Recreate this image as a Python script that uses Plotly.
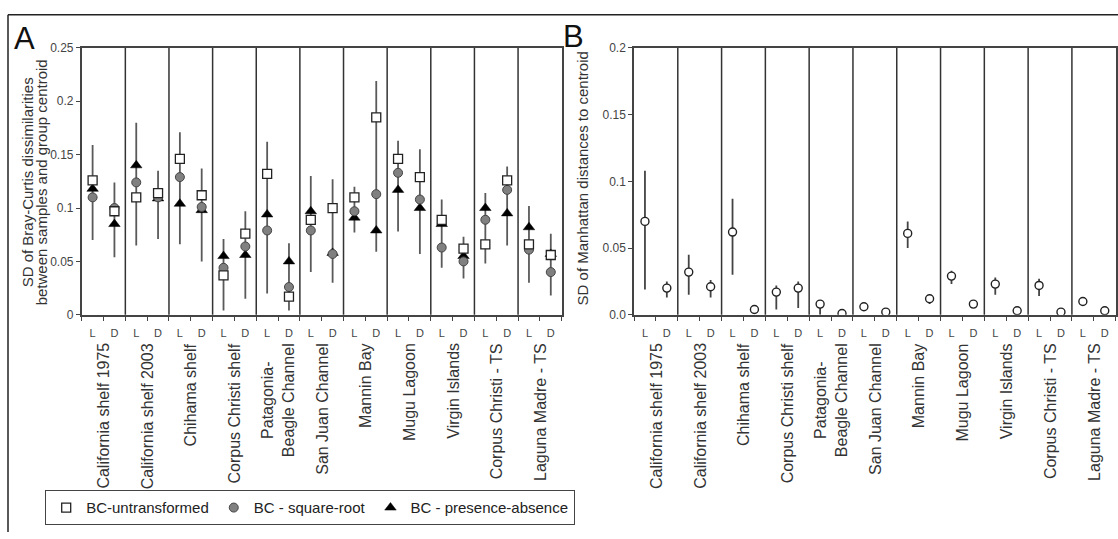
import plotly.graph_objects as go

# ---------------- data ----------------
sites = ["California shelf 1975", "California shelf 2003", "Chihama shelf",
         "Corpus Christi shelf", "Patagonia-<br>Beagle Channel", "San Juan Channel",
         "Mannin Bay", "Mugu Lagoon", "Virgin Islands", "Corpus Christi - TS",
         "Laguna Madre - TS"]
positions = ["L", "D"]

# Panel A (Bray-Curtis), order: site1 L, site1 D, site2 L, ...
bc_untransformed = [0.126, 0.097, 0.110, 0.114, 0.146, 0.112, 0.037, 0.076, 0.132, 0.017, 0.089,
                    0.100, 0.110, 0.185, 0.146, 0.129, 0.089, 0.062, 0.066, 0.126, 0.066, 0.056]
bc_sqrt = [0.110, 0.100, 0.124, 0.110, 0.129, 0.101, 0.044, 0.064, 0.079, 0.026, 0.079,
           0.057, 0.097, 0.113, 0.133, 0.108, 0.063, 0.050, 0.089, 0.117, 0.061, 0.040]
bc_pa = [0.118, 0.085, 0.140, 0.109, 0.104, 0.098, 0.055, 0.056, 0.094, 0.050, 0.097,
         0.058, 0.091, 0.079, 0.117, 0.100, 0.085, 0.055, 0.100, 0.095, 0.082, 0.057]
ci_a_low = [0.070, 0.054, 0.065, 0.071, 0.066, 0.050, 0.004, 0.015, 0.020, 0.004, 0.040,
            0.030, 0.077, 0.059, 0.078, 0.057, 0.044, 0.034, 0.048, 0.065, 0.030, 0.018]
ci_a_high = [0.159, 0.124, 0.180, 0.135, 0.171, 0.137, 0.071, 0.097, 0.162, 0.067, 0.130,
             0.127, 0.120, 0.219, 0.163, 0.155, 0.108, 0.073, 0.114, 0.139, 0.102, 0.076]

# Panel B (Manhattan)
manhattan = [0.070, 0.020, 0.032, 0.021, 0.062, 0.004, 0.017, 0.020, 0.008, 0.001, 0.006,
             0.002, 0.061, 0.012, 0.029, 0.008, 0.023, 0.003, 0.022, 0.002, 0.010, 0.003]
ci_b_low = [0.019, 0.013, 0.015, 0.013, 0.030, 0.004, 0.004, 0.005, 0.000, 0.001, 0.006,
            0.002, 0.050, 0.008, 0.023, 0.005, 0.015, 0.003, 0.014, 0.002, 0.010, 0.003]
ci_b_high = [0.108, 0.025, 0.045, 0.026, 0.087, 0.004, 0.022, 0.025, 0.011, 0.001, 0.006,
             0.002, 0.070, 0.015, 0.033, 0.008, 0.028, 0.003, 0.027, 0.002, 0.010, 0.003]

yticks_a = [0, 0.05, 0.1, 0.15, 0.2, 0.25]
yticktext_a = ["0", "0.05", "0.1", "0.15", "0.2", "0.25"]
yticks_b = [0, 0.05, 0.1, 0.15, 0.2]
yticktext_b = ["0.0", "0.05", "0.1", "0.15", "0.2"]

# ---------------- figure ----------------
W, H = 1118, 539
FONT = "Liberation Sans, Arial, sans-serif"
n = len(sites) * len(positions)
xpos = [i + 0.5 for i in range(n)]
xlabels = [positions[i % 2] for i in range(n)]

def px(v):
    return v / W

def py(v):
    return 1 - v / H

fig = go.Figure()

def err_segments(lo, hi):
    xs, ys = [], []
    for x, a, b in zip(xpos, lo, hi):
        xs += [x, x, None]
        ys += [a, b, None]
    return xs, ys

ex, ey = err_segments(ci_a_low, ci_a_high)
fig.add_trace(go.Scatter(x=ex, y=ey, mode="lines", line=dict(color="#5a5a5a", width=1.8),
                         showlegend=False, hoverinfo="skip", xaxis="x", yaxis="y"))
fig.add_trace(go.Scatter(x=xpos, y=bc_pa, mode="markers", name="BC - presence-absence",
                         marker=dict(symbol="triangle-up", size=10, color="#000000",
                                     line=dict(color="#000000", width=0.5)),
                         xaxis="x", yaxis="y"))
fig.add_trace(go.Scatter(x=xpos, y=bc_sqrt, mode="markers", name="BC - square-root",
                         marker=dict(symbol="circle", size=9, color="#808080",
                                     line=dict(color="#444444", width=1)),
                         xaxis="x", yaxis="y"))
fig.add_trace(go.Scatter(x=xpos, y=bc_untransformed, mode="markers", name="BC-untransformed",
                         marker=dict(symbol="square", size=9, color="#ffffff",
                                     line=dict(color="#222222", width=1.3)),
                         xaxis="x", yaxis="y"))

ex, ey = err_segments(ci_b_low, ci_b_high)
fig.add_trace(go.Scatter(x=ex, y=ey, mode="lines", line=dict(color="#444444", width=1.8),
                         showlegend=False, hoverinfo="skip", xaxis="x2", yaxis="y2"))
fig.add_trace(go.Scatter(x=xpos, y=manhattan, mode="markers", showlegend=False,
                         marker=dict(symbol="circle", size=8, color="#ffffff",
                                     line=dict(color="#222222", width=1.4)),
                         xaxis="x2", yaxis="y2"))

axis_common = dict(showline=True, linecolor="#444444", linewidth=1.5, mirror=True,
                   showgrid=False, zeroline=False)
xaxis_common = dict(axis_common, range=[0, n], tickmode="array", tickvals=xpos,
                    ticktext=xlabels, ticks="", ticklabelstandoff=7,
                    tickfont=dict(family=FONT, size=11, color="#444444"),
                    minor=dict(tickmode="array", tickvals=list(range(n + 1)), ticks="outside",
                               ticklen=4, tickwidth=1.2, tickcolor="#444444"))
yaxis_common = dict(axis_common, ticks="outside", ticklen=4, tickwidth=1.2, tickcolor="#444444",
                    tickfont=dict(family=FONT, size=12, color="#444444"))

dom_y = [py(316), py(42)]
fig.update_layout(
    width=W, height=H, margin=dict(l=0, r=0, t=0, b=0),
    paper_bgcolor="white", plot_bgcolor="white",
    font=dict(family=FONT, color="#222222"),
    xaxis=dict(xaxis_common, domain=[px(81.7), px(561.7)], anchor="y"),
    yaxis=dict(yaxis_common, domain=dom_y, range=[0, 0.25], tickvals=yticks_a,
               ticktext=yticktext_a, anchor="x"),
    xaxis2=dict(xaxis_common, domain=[px(634), px(1115.7)], anchor="y2"),
    yaxis2=dict(yaxis_common, domain=dom_y, range=[0, 0.2], tickvals=yticks_b,
                ticktext=yticktext_b, anchor="x2"),
    legend=dict(orientation="h", x=px(45), y=py(496), xanchor="left", yanchor="top",
                bordercolor="#444444", borderwidth=1.2, traceorder="reversed",
                font=dict(family=FONT, size=15, color="#222222"),
                itemwidth=30),
    showlegend=True,
)

shapes = []
for xa, ya in (("x", "y"), ("x2", "y2")):
    for k in range(1, len(sites)):
        shapes.append(dict(type="line", xref=xa, yref=ya + " domain", x0=2 * k, x1=2 * k,
                           y0=0, y1=1, line=dict(color="#333333", width=1.5)))
# outer figure frame (left and top edges visible)
shapes.append(dict(type="line", xref="paper", yref="paper", x0=px(8), x1=px(8), y0=0, y1=py(8),
                   line=dict(color="#222222", width=1.5)))
shapes.append(dict(type="line", xref="paper", yref="paper", x0=px(8), x1=1, y0=py(8), y1=py(8),
                   line=dict(color="#222222", width=1.5)))
fig.update_layout(shapes=shapes)

ann = []
for xa in ("x", "x2"):
    for k, s in enumerate(sites):
        ann.append(dict(text=s, xref=xa, yref="paper", x=2 * k + 1, y=py(343),
                        xanchor="center", yanchor="top", textangle=-90, showarrow=False,
                        align="center",
                        font=dict(family=FONT, size=16, color="#333333")))
ann.append(dict(text="A", xref="paper", yref="paper", x=px(12), y=py(12), xanchor="left",
                yanchor="top", showarrow=False,
                font=dict(family=FONT, size=31, color="#111111")))
ann.append(dict(text="B", xref="paper", yref="paper", x=px(561), y=py(10), xanchor="left",
                yanchor="top", showarrow=False,
                font=dict(family=FONT, size=31, color="#111111")))
ann.append(dict(text="SD of Bray-Curtis dissimilarities", xref="paper", yref="paper",
                x=px(27), y=py(180), xanchor="center", yanchor="middle", textangle=-90,
                showarrow=False, font=dict(family=FONT, size=15, color="#333333")))
ann.append(dict(text="between samples and group centroid", xref="paper", yref="paper",
                x=px(41), y=py(180), xanchor="center", yanchor="middle", textangle=-90,
                showarrow=False, font=dict(family=FONT, size=15, color="#333333")))
ann.append(dict(text="SD of Manhattan distances to centroid", xref="paper", yref="paper",
                x=px(582), y=py(176), xanchor="center", yanchor="middle", textangle=-90,
                showarrow=False, font=dict(family=FONT, size=15, color="#333333")))
fig.update_layout(annotations=ann)

fig.write_html("out.html")
